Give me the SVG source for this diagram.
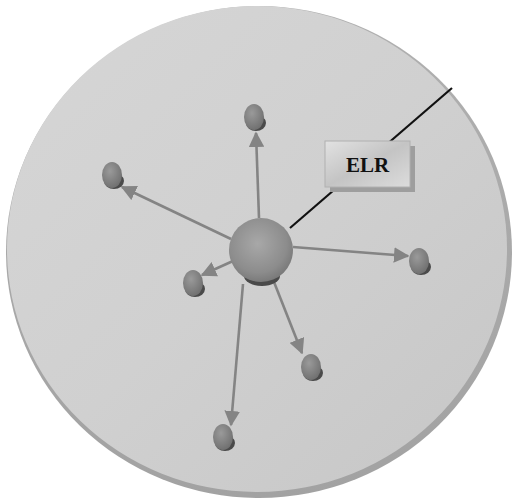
<svg xmlns="http://www.w3.org/2000/svg" width="517" height="501" viewBox="0 0 517 501">
  <defs>
    <linearGradient id="discFill" x1="0" y1="0" x2="1" y2="1">
      <stop offset="0" stop-color="#d6d6d6"/>
      <stop offset="0.5" stop-color="#d0d0d0"/>
      <stop offset="1" stop-color="#c6c6c6"/>
    </linearGradient>
    <linearGradient id="rimFill" x1="0" y1="0" x2="0" y2="1">
      <stop offset="0" stop-color="#b0b0b0"/>
      <stop offset="1" stop-color="#a2a2a2"/>
    </linearGradient>
    <radialGradient id="hubFill" cx="0.45" cy="0.4" r="0.65">
      <stop offset="0" stop-color="#a8a8a8"/>
      <stop offset="0.7" stop-color="#8c8c8c"/>
      <stop offset="1" stop-color="#747474"/>
    </radialGradient>
    <radialGradient id="nodeFill" cx="0.4" cy="0.35" r="0.7">
      <stop offset="0" stop-color="#9a9a9a"/>
      <stop offset="1" stop-color="#6e6e6e"/>
    </radialGradient>
    <linearGradient id="boxFill" x1="0" y1="0" x2="1" y2="1">
      <stop offset="0" stop-color="#e2e2e2"/>
      <stop offset="0.5" stop-color="#c4c4c4"/>
      <stop offset="1" stop-color="#dcdcdc"/>
    </linearGradient>
    <marker id="arrow" viewBox="0 0 10 10" refX="9" refY="5" markerWidth="6" markerHeight="6" orient="auto" markerUnits="strokeWidth">
      <path d="M0,0 L10,5 L0,10 Z" fill="#848484"/>
    </marker>
    <g id="sat">
      <ellipse cx="2" cy="6" rx="10" ry="8" fill="#4a4a4a"/>
      <ellipse cx="0" cy="0" rx="10" ry="13" fill="url(#nodeFill)"/>
    </g>
  </defs>
  <style>
    .link { stroke: #848484; stroke-width: 2.6; fill: none; marker-end: url(#arrow); }
    .lead { stroke: #111111; stroke-width: 2.2; }
    .label { font-family: "Liberation Serif", "Times New Roman", serif; font-weight: bold; font-size: 21px; fill: #111111; }
  </style>

  <!-- disc with rim -->
  <g id="disc">
    <ellipse cx="259" cy="252" rx="253" ry="246" fill="url(#rimFill)"/>
    <ellipse cx="257" cy="249" rx="250" ry="243" fill="url(#discFill)"/>
  </g>

  <!-- leader line to the label -->
  <line class="lead" x1="452" y1="88" x2="290" y2="228"/>

  <!-- connectors -->
  <g id="connectors">
    <line class="link" x1="259" y1="218" x2="256" y2="133"/>
    <line class="link" x1="231" y1="239" x2="122" y2="187"/>
    <line class="link" x1="293" y1="247" x2="408" y2="256"/>
    <line class="link" x1="233" y1="261" x2="202" y2="275"/>
    <line class="link" x1="274" y1="282" x2="302" y2="353"/>
    <line class="link" x1="243" y1="284" x2="231" y2="425"/>
  </g>

  <!-- central hub -->
  <g id="hub">
    <ellipse cx="262" cy="276" rx="18" ry="10" fill="#4a4a4a"/>
    <circle cx="261" cy="250" r="32" fill="url(#hubFill)"/>
  </g>

  <!-- satellite nodes -->
  <g id="node-top"><use href="#sat" x="254" y="117"/></g>
  <g id="node-upper-left"><use href="#sat" x="112" y="175"/></g>
  <g id="node-right"><use href="#sat" x="419" y="261"/></g>
  <g id="node-lower-left"><use href="#sat" x="193" y="283"/></g>
  <g id="node-lower-right"><use href="#sat" x="311" y="367"/></g>
  <g id="node-bottom"><use href="#sat" x="223" y="437"/></g>

  <!-- label box -->
  <g id="elr">
    <rect x="330" y="146" width="85" height="46" fill="#9e9e9e"/>
    <rect x="325" y="141" width="85" height="46" fill="url(#boxFill)" stroke="#b0b0b0" stroke-width="1"/>
    <text class="label" x="367.5" y="172" text-anchor="middle">ELR</text>
  </g>
</svg>
